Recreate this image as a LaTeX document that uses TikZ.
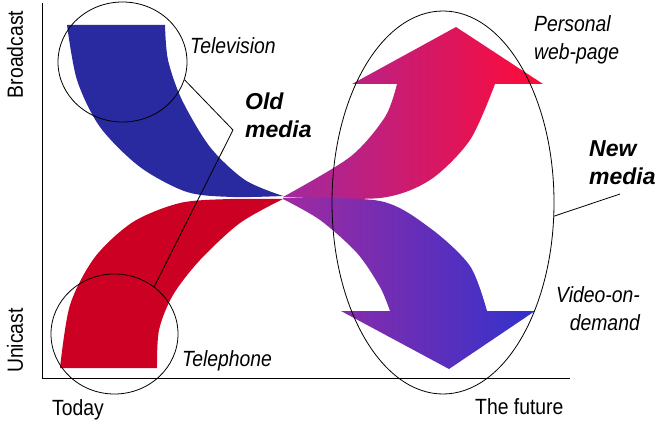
\documentclass[tikz,border=0pt]{standalone}
\usepackage{fontspec}
\setmainfont{Liberation Sans}[FakeStretch=0.88]
\newfontfamily\wideSans{Liberation Sans}
\usetikzlibrary{shapes.geometric}
\definecolor{tvblue}{RGB}{42,42,160}
\definecolor{telred}{RGB}{204,0,34}
\definecolor{midpurple}{RGB}{160,42,160}
\definecolor{webred}{RGB}{255,10,55}
\definecolor{vodblue}{RGB}{50,50,205}
\begin{document}
\begin{tikzpicture}[x=1pt,y=-1pt,
  lbl/.style={inner sep=0, font=\fontsize{22}{26}\selectfont},
  ilbl/.style={inner sep=0, font=\fontsize{22}{26}\selectfont\itshape},
  blbl/.style={inner sep=0, font=\wideSans\fontsize{23}{27}\selectfont\bfseries\itshape},
  ring/.style={draw, ellipse, line width=0.8pt, inner sep=0pt},
  leader/.style={line width=0.8pt},
  axis/.style={line width=1pt}
]
\useasboundingbox (0,0) rectangle (664,425);

% axes
\coordinate (ytop) at (42,3);
\coordinate (xend) at (570,378);
\draw[axis] (ytop) |- (xend);

% old media bands
\fill[tvblue] (67,25) -- (165,25)
  -- plot[smooth] coordinates {(165,25) (168,60) (182,100) (210,147) (245,180) (283,196)}
  -- plot[smooth] coordinates {(283,196) (233,197) (187,192) (140,167) (100,127) (77,80) (67,25)}
  -- cycle;
\fill[telred] (60,368) -- (157,368)
  -- plot[smooth] coordinates {(157,368) (159,330) (173,295) (200,260) (240,223) (283,199)}
  -- plot[smooth] coordinates {(283,199) (230,199) (180,203) (133,222) (95,257) (70,305) (60,368)}
  -- cycle;

% new media arrows
\shade[left color=midpurple, right color=webred]
  plot[smooth] coordinates {(283,197) (380,198) (430,180) (470,140) (495,84)}
  -- (543,84) -- (456,27) -- (352,84) -- (397,84)
  -- plot[smooth] coordinates {(397,84) (385,117) (350,157) (283,197)}
  -- cycle;
\shade[left color=midpurple, right color=vodblue]
  plot[smooth] coordinates {(283,198) (380,201) (430,228) (470,266) (487,311)}
  -- (535,311) -- (449,369) -- (341,311) -- (390,311)
  -- plot[smooth] coordinates {(390,311) (380,287) (357,253) (320,220) (283,199)}
  -- cycle;

% rings
\node[ring, minimum width=129pt, minimum height=120pt] (tvring) at (122.5,62) {};
\node[ring, minimum width=127pt, minimum height=120pt] (telring) at (114.5,334) {};
\node[ring, minimum width=222pt, minimum height=383pt] (newring) at (443,202.5) {};

% leaders
\coordinate (oldbend) at (233,130);
\coordinate (newend) at (620,194);
\draw[leader] (tvring.-16) -- (oldbend) -- (telring.50);
\draw[leader] (newring.-7) -- (newend);

% axis labels
\node[lbl, rotate=90, anchor=base] (broadcast) at (23,54.5) {Broadcast};
\node[lbl, rotate=90, anchor=base] (unicast) at (23,340.5) {Unicast};
\node[lbl, anchor=base west] (today) at (52,415) {Today};
\node[lbl, anchor=base west] (future) at (475,414) {The future};

% item labels
\node[ilbl, anchor=base west] (tv) at (190,54) {Television};
\node[ilbl, anchor=base west] (tel) at (182,366) {Telephone};
\node[ilbl, anchor=base west] (web1) at (534,32) {Personal};
\node[ilbl, anchor=base west] (web2) at (534,60) {web-page};
\node[ilbl, anchor=base east] (vod1) at (640,302) {Video-on-};
\node[ilbl, anchor=base east] (vod2) at (640,330) {demand};

% group labels
\node[blbl, anchor=base west] (old1) at (245,110) {Old};
\node[blbl, anchor=base west] (old2) at (245,138) {media};
\node[blbl, anchor=base west] (new1) at (589,157) {New};
\node[blbl, anchor=base west] (new2) at (589,185) {media};
\end{tikzpicture}
\end{document}
